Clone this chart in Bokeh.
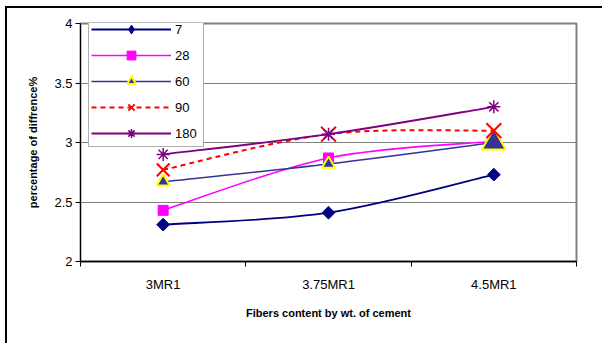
import math
from bokeh.plotting import figure
from bokeh.models import Range1d, FixedTicker, Legend, LegendItem
from bokeh.embed import file_html
from bokeh.resources import INLINE

# ---------------- data ----------------
categories = ["3MR1", "3.75MR1", "4.5MR1"]
series_names = ["7", "28", "60", "90", "180"]
s7 = [2.31, 2.41, 2.73]
s28 = [2.43, 2.87, 3.01]
s60 = [2.67, 2.82, 3.00]
s90 = [2.77, 3.07, 3.10]
s180 = [2.90, 3.07, 3.30]
y_ticks = [2, 2.5, 3, 3.5, 4]
y_tick_labels = ["2", "2.5", "3", "3.5", "4"]

x_title = "Fibers content by wt. of cement"
y_title = "percentage of diffrence%"

series_values = [s7, s28, s60, s90, s180]
xs = [i + 1 for i in range(len(categories))]
NAN = float("nan")

# ---------------- styles ----------------
styles = [
    dict(color="#000080", lw=1.8, dash="solid", marker="square", leg_marker="diamond",
         angle=math.pi / 4, fill="#000080", mline="#000080", mlw=1, sizes=[9, 9, 9]),
    dict(color="#FF00FF", lw=1.6, dash="solid", marker="square", leg_marker="square",
         angle=0, fill="#FF00FF", mline="#FF00FF", mlw=1, sizes=[10, 10, 10]),
    dict(color="#333399", lw=1.6, dash="solid", marker="triangle", leg_marker="triangle",
         angle=0, fill="#333399", mline="#FFFF00", mlw=2, sizes=[13, 13, 24]),
    dict(color="#FF0000", lw=2, dash="5 4", marker="x", leg_marker="x",
         angle=0, fill="#FF0000", mline="#FF0000", mlw=2, sizes=[18, 21, 21]),
    dict(color="#800080", lw=1.8, dash="solid", marker="asterisk", leg_marker="asterisk",
         angle=0, fill="#800080", mline="#800080", mlw=1.5, sizes=[13, 13, 13]),
]

FONT = "Liberation Sans"

p = figure(width=602, height=343,
           x_range=Range1d(0.5, len(categories) + 0.5),
           y_range=Range1d(y_ticks[0], y_ticks[-1]),
           min_border_left=80, min_border_right=26,
           min_border_top=23, min_border_bottom=82,
           output_backend="svg", toolbar_location=None)

p.background_fill_color = "white"
p.border_fill_alpha = 0
p.outline_line_color = "#808080"
p.outline_line_width = 2
# outer chart-area border (only its top and left edges fall inside the picture)
p.styles = {
    "background": "linear-gradient(#000,#000) 5px 6px / 2px 100% no-repeat, "
                  "linear-gradient(#000,#000) 5px 6px / 100% 2px no-repeat, white"
}

# axes
yax = p.yaxis[0]
yax.ticker = FixedTicker(ticks=y_ticks, minor_ticks=[])
yax.major_label_overrides = {t: l for t, l in zip(y_ticks, y_tick_labels)}
yax.major_tick_in = 0
yax.major_tick_out = 5
yax.minor_tick_line_color = None
yax.axis_line_color = "black"
yax.major_tick_line_color = "black"
yax.major_label_text_font = FONT
yax.major_label_text_font_size = "13px"
yax.major_label_text_color = "black"
yax.major_label_standoff = 3
yax.axis_label = y_title
yax.axis_label_text_font = FONT
yax.axis_label_text_font_style = "bold"
yax.axis_label_text_font_size = "11px"
yax.axis_label_text_color = "black"
yax.axis_label_standoff = 12

xax = p.xaxis[0]
xax.ticker = FixedTicker(ticks=xs, minor_ticks=[x - 0.5 for x in xs] + [xs[-1] + 0.5])
xax.major_label_overrides = {x: c for x, c in zip(xs, categories)}
xax.major_tick_line_color = None
xax.major_tick_in = 0
xax.major_tick_out = 0
xax.minor_tick_in = 0
xax.minor_tick_out = 5
xax.minor_tick_line_color = "black"
xax.axis_line_color = "black"
xax.axis_line_width = 1.5
xax.major_label_text_font = FONT
xax.major_label_text_font_size = "13px"
xax.major_label_text_color = "black"
xax.major_label_standoff = 10
xax.axis_label = x_title
xax.axis_label_text_font = FONT
xax.axis_label_text_font_style = "bold"
xax.axis_label_text_font_size = "11px"
xax.axis_label_text_color = "black"
xax.axis_label_standoff = 12

p.xgrid.grid_line_color = None
p.ygrid.grid_line_color = "#808080"
p.ygrid.grid_line_width = 1


def smooth_segments(x, y):
    """Cubic Bezier segments (Catmull-Rom style) through the data points."""
    n = len(x)
    out = dict(x0=[], y0=[], x1=[], y1=[], cx0=[], cy0=[], cx1=[], cy1=[])
    for i in range(n - 1):
        a = i - 1 if i > 0 else i
        d = i + 2 if i + 2 < n else i + 1
        out["x0"].append(x[i]); out["y0"].append(y[i])
        out["x1"].append(x[i + 1]); out["y1"].append(y[i + 1])
        out["cx0"].append(x[i] + (x[i + 1] - x[a]) / 6.0)
        out["cy0"].append(y[i] + (y[i + 1] - y[a]) / 6.0)
        out["cx1"].append(x[i + 1] - (x[d] - x[i]) / 6.0)
        out["cy1"].append(y[i + 1] - (y[d] - y[i]) / 6.0)
    return out


items = []
for name, vals, st in zip(series_names, series_values, styles):
    seg = smooth_segments(xs, vals)
    p.bezier(line_color=st["color"], line_width=st["lw"], line_dash=st["dash"], **seg)
    p.scatter(x=xs, y=vals, size=st["sizes"], marker=st["marker"],
              angle=st["angle"], fill_color=st["fill"],
              line_color=st["mline"], line_width=st["mlw"])
    # legend-only renderers (nothing drawn in the plot area)
    leg_line = p.line(x=[NAN], y=[NAN], line_color=st["color"], line_width=st["lw"],
                      line_dash=st["dash"])
    leg_mark = p.scatter(x=[NAN], y=[NAN], marker=st["leg_marker"],
                         fill_color=st["fill"], line_color=st["mline"],
                         line_width=st["mlw"])
    items.append(LegendItem(label=name, renderers=[leg_line, leg_mark]))

legend = Legend(items=items, location=(8, 114), orientation="vertical",
                glyph_width=80, glyph_height=22, label_height=22, label_width=26,
                spacing=4, padding=2, margin=0, label_standoff=4,
                label_text_font=FONT, label_text_font_size="13px",
                label_text_color="black",
                border_line_color="#606060", border_line_width=1.5,
                background_fill_color="white", background_fill_alpha=1)
p.add_layout(legend, "center")

open("out.html", "w").write(file_html(p, INLINE))
